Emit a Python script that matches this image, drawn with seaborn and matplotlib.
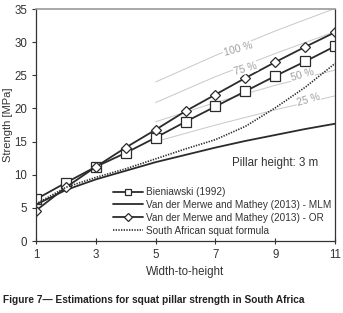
import numpy as np
import pandas as pd
import matplotlib
matplotlib.use('Agg')
import matplotlib.pyplot as plt
import seaborn as sns

# width-to-height ratios
wh = [1, 2, 3, 4, 5, 6, 7, 8, 9, 10, 11]

# strength estimates [MPa]
bieniawski = [6.3, 8.8, 11.2, 13.3, 15.6, 18.0, 20.3, 22.6, 24.9, 27.1, 29.4]
mlm = [5.5, 7.7, 9.3, 10.6, 11.9, 13.0, 14.1, 15.1, 16.0, 16.9, 17.7]
orr = [4.6, 8.1, 11.2, 14.1, 16.8, 19.6, 22.1, 24.6, 27.0, 29.3, 31.5]
squat = [5.6, 8.1, 9.6, 10.9, 12.4, 13.9, 15.3, 17.3, 20.1, 23.2, 26.8]

# light grey percentage guide lines
wh_pct = [5, 7, 9, 11]
pct_100 = [24.0, 28.0, 31.7, 35.1]
pct_75 = [20.9, 24.8, 28.3, 31.6]
pct_50 = [18.0, 20.9, 23.5, 25.8]
pct_25 = [15.0, 17.5, 19.8, 21.9]
pct_labels = ['100 %', '75 %', '50 %', '25 %']
pct_label_x = [7.75, 8.0, 9.9, 10.1]
pct_label_y = [28.9, 26.0, 25.0, 21.3]

sns.set_style("ticks")
plt.rcParams['font.family'] = ['Liberation Sans', 'DejaVu Sans']

fig = plt.figure(figsize=(3.43, 3.13), dpi=100)
ax = fig.add_axes([0.105, 0.230, 0.872, 0.741])

grey = '#c8c8c8'
for ys in [pct_100, pct_75, pct_50, pct_25]:
    sns.lineplot(x=wh_pct, y=ys, color=grey, linewidth=0.7, ax=ax)
for lab, lx, ly in zip(pct_labels, pct_label_x, pct_label_y):
    ax.text(lx, ly, lab, color='#a0a0a0', fontsize=7.5, rotation=16,
            ha='center', va='center',
            bbox=dict(facecolor='white', edgecolor='none', pad=0.3))

dark = '#2b2b2b'
sns.lineplot(x=wh, y=bieniawski, color=dark, linewidth=1.3, marker='s',
             markersize=6.5, markerfacecolor='white', markeredgecolor=dark,
             markeredgewidth=0.9, label='Bieniawski (1992)', ax=ax)
sns.lineplot(x=wh, y=mlm, color=dark, linewidth=1.3,
             label='Van der Merwe and Mathey (2013) - MLM', ax=ax)
sns.lineplot(x=wh, y=orr, color=dark, linewidth=1.3, marker='D',
             markersize=5.5, markerfacecolor='white', markeredgecolor=dark,
             markeredgewidth=0.9, label='Van der Merwe and Mathey (2013) - OR', ax=ax)
sns.lineplot(x=wh, y=squat, color=dark, linewidth=1.2, linestyle=(0, (0.8, 0.8)),
             label='South African squat formula', ax=ax)

ax.set_xlim(1, 11)
ax.set_ylim(0, 35)
ax.set_xticks([1, 3, 5, 7, 9, 11])
ax.set_yticks(range(0, 36, 5))
ax.tick_params(labelsize=8.3, length=3, width=0.8, colors='#333333')
ax.tick_params(axis='x', direction='inout', length=5)
for s in ['left', 'bottom', 'right']:
    ax.spines[s].set_color('#333333')
    ax.spines[s].set_linewidth(0.9)
ax.spines['top'].set_color('#999999')
ax.spines['top'].set_linewidth(1.2)

ax.set_xlabel('Width-to-height', fontsize=8.3, color='#333333', labelpad=3)
ax.set_ylabel('Strength [MPa]', fontsize=8, color='#333333', labelpad=0.5)

ax.text(9.0, 11.8, 'Pillar height: 3 m', fontsize=8.3, color='#333333',
        ha='center', va='center')

leg = ax.legend(loc='lower left', bbox_to_anchor=(0.24, 0.0), frameon=False,
                fontsize=7.2, handlelength=3.0, handletextpad=0.3,
                labelspacing=0.28, borderaxespad=0.15)
for t in leg.get_texts():
    t.set_color('#333333')
for h in leg.legend_handles:
    h.set_markersize(4.5)

fig.text(0.01, 0.042, 'Figure 7\u2014 Estimations for squat pillar strength in South Africa',
         fontsize=7.3, fontweight='bold', color='#222222', ha='left', va='center')

fig.savefig('out.png', dpi=100)
